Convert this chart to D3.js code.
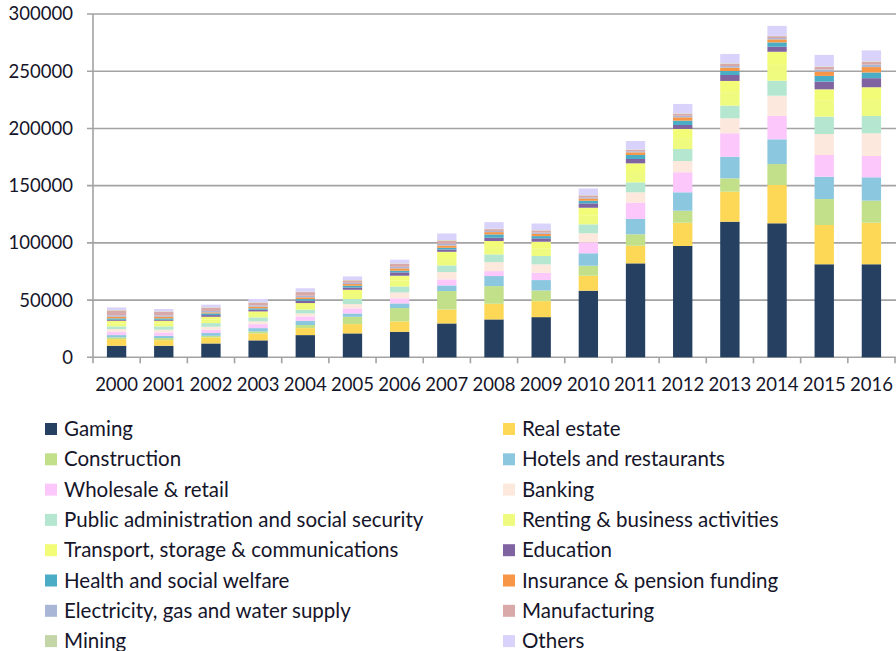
<!DOCTYPE html>
<html>
<head>
<meta charset="utf-8">
<script src="https://cdn.jsdelivr.net/npm/d3@7"></script>
<style>
    body { margin: 0; background: #fff; }
    svg { display: block; font-family: Lato, "Open Sans", sans-serif; }
</style>
</head>
<body>
<svg class="main" width="896" height="651"></svg>
<script>
var years = ["2000", "2001", "2002", "2003", "2004", "2005", "2006", "2007", "2008",
    "2009", "2010", "2011", "2012", "2013", "2014", "2015", "2016"];

// series, bottom of the stack first
var gaming        = [10100, 10100, 12100, 14800, 19400, 20900, 22300, 29600, 33100, 35100, 58200, 82100, 97300, 118500, 117100, 81300, 81300];
var realEstate    = [5800, 4900, 5300, 6100, 6100, 8100, 9100, 12200, 13700, 14000, 13100, 15400, 20300, 26200, 33500, 34300, 36300];
var construction  = [1500, 1800, 1400, 1700, 2700, 6400, 11600, 16100, 15400, 9300, 8700, 10000, 10500, 11700, 18300, 22700, 19300];
var hotels        = [2000, 2000, 2400, 2900, 3700, 2900, 4100, 4900, 8800, 9100, 10900, 13400, 16100, 18900, 21600, 19500, 20400];
var wholesale     = [2900, 2900, 2900, 3500, 3800, 4400, 4400, 5300, 4300, 6400, 9600, 14200, 17500, 20500, 20600, 19000, 18600];
var banking       = [2400, 2400, 2600, 2400, 2600, 3800, 5200, 6400, 7900, 7300, 7900, 9100, 9800, 13100, 17500, 18300, 19900];
var publicAdmin   = [2300, 2900, 3200, 3500, 3300, 4400, 5200, 5800, 6700, 7300, 7800, 8700, 10500, 11000, 13100, 15200, 15100];
var renting       = [2700, 2700, 3000, 2900, 3200, 4400, 5100, 6500, 6400, 6800, 7900, 9000, 9500, 11800, 13800, 14300, 14000];
var transport     = [2200, 2200, 2500, 2300, 2600, 3700, 4300, 5400, 5300, 5700, 6600, 7600, 8000, 9800, 11500, 9600, 11100];
var education     = [900, 900, 1500, 1500, 2000, 2000, 2900, 2000, 2900, 2900, 3800, 3800, 3500, 5200, 4400, 6700, 7900];
var health        = [1200, 1200, 1500, 1200, 1500, 1500, 1500, 1500, 2900, 2000, 2300, 3500, 3800, 3500, 3800, 5000, 5000];
var insurance     = [1500, 1500, 900, 1500, 1500, 1500, 2000, 2000, 2000, 2000, 2000, 2300, 2900, 2900, 2600, 3800, 4700];
var electricity   = [1200, 1100, 1200, 1100, 1400, 1100, 1400, 1500, 1000, 1100, 1100, 1000, 1400, 1400, 1200, 1800, 2200];
var manufacturing = [4200, 3300, 2900, 2400, 3200, 2100, 2600, 2700, 1600, 1800, 1500, 1300, 1800, 2000, 1600, 2200, 2400];
var mining        = [400, 300, 300, 300, 400, 300, 400, 500, 300, 300, 300, 300, 300, 400, 300, 400, 400];
var others        = [2300, 2000, 2300, 2900, 2900, 3200, 3200, 5800, 5800, 5800, 5800, 7300, 8200, 8200, 8700, 10200, 9600];

var yTicks = [0, 50000, 100000, 150000, 200000, 250000, 300000];

var series = [
    { name: "Gaming", values: gaming, color: "#254061" },
    { name: "Real estate", values: realEstate, color: "#fdd856" },
    { name: "Construction", values: construction, color: "#c2e089" },
    { name: "Hotels and restaurants", values: hotels, color: "#8cc7e0" },
    { name: "Wholesale & retail", values: wholesale, color: "#fcc7fb" },
    { name: "Banking", values: banking, color: "#fce8dc" },
    { name: "Public administration and social security", values: publicAdmin, color: "#b5e7d0" },
    { name: "Renting & business activities", values: renting, color: "#eefb7e" },
    { name: "Transport, storage & communications", values: transport, color: "#f2fc76" },
    { name: "Education", values: education, color: "#8064a2" },
    { name: "Health and social welfare", values: health, color: "#4bacc6" },
    { name: "Insurance & pension funding", values: insurance, color: "#f79646" },
    { name: "Electricity, gas and water supply", values: electricity, color: "#a9b6d6" },
    { name: "Manufacturing", values: manufacturing, color: "#d9a8a8" },
    { name: "Mining", values: mining, color: "#c4d6a8" },
    { name: "Others", values: others, color: "#d9d3fb" }
];

var svg = d3.select(".main"),
    textColor = "#15152a",
    gridColor = "#a3a3a3";

var layout = {
    left: 93,
    right: 895,
    top: 14,
    bottom: 357.3
};

var table = years.map(function(y, i) {
    var row = { year: y };
    series.forEach(function(s) { row[s.name] = s.values[i]; });
    return row;
});

var stacked = d3.stack().keys(series.map(function(s) { return s.name; }))(table);

var x = d3.scaleBand()
    .domain(years)
    .range([layout.left, layout.right])
    .paddingInner(0.59)
    .paddingOuter(0.295);

var y = d3.scaleLinear()
    .domain([0, 300000])
    .range([layout.bottom, layout.top]);

/**
 * Grid and y labels
 */
svg.append("g")
    .selectAll("line")
    .data(yTicks)
    .enter()
    .append("line")
    .attr("x1", layout.left - 6)
    .attr("x2", layout.right + 1)
    .attr("y1", function(d) { return y(d); })
    .attr("y2", function(d) { return y(d); })
    .attr("stroke", gridColor)
    .attr("stroke-width", 1.6);

svg.append("g")
    .selectAll("text")
    .data(yTicks)
    .enter()
    .append("text")
    .attr("x", 73)
    .attr("y", function(d) { return y(d); })
    .attr("dy", "0.35em")
    .attr("text-anchor", "end")
    .attr("fill", textColor)
    .style("font-size", "18.5px")
    .text(function(d) { return d; });

// left axis line
svg.append("line")
    .attr("x1", layout.left)
    .attr("x2", layout.left)
    .attr("y1", layout.top)
    .attr("y2", layout.bottom)
    .attr("stroke", gridColor)
    .attr("stroke-width", 1.6);

/**
 * Bars
 */
svg.append("g")
    .selectAll("g")
    .data(stacked)
    .enter()
    .append("g")
    .attr("fill", function(d, i) { return series[i].color; })
    .selectAll("rect")
    .data(function(d) { return d; })
    .enter()
    .append("rect")
    .attr("x", function(d) { return x(d.data.year); })
    .attr("width", x.bandwidth())
    .attr("y", function(d) { return y(d[1]); })
    .attr("height", function(d) { return y(d[0]) - y(d[1]); });

/**
 * X axis: ticks between categories, year labels
 */
var step = x.step();

svg.append("g")
    .selectAll("line")
    .data(d3.range(years.length + 1))
    .enter()
    .append("line")
    .attr("x1", function(i) { return layout.left + i * step; })
    .attr("x2", function(i) { return layout.left + i * step; })
    .attr("y1", layout.bottom)
    .attr("y2", layout.bottom + 6)
    .attr("stroke", gridColor)
    .attr("stroke-width", 1.6);

svg.append("g")
    .selectAll("text")
    .data(years)
    .enter()
    .append("text")
    .attr("x", function(d) { return x(d) + x.bandwidth() / 2; })
    .attr("y", 385)
    .attr("dy", "0.35em")
    .attr("text-anchor", "middle")
    .attr("fill", textColor)
    .style("font-size", "18.5px")
    .text(function(d) { return d; });

/**
 * Legend, two columns read row by row
 */
var legend = svg.append("g")
    .selectAll("g")
    .data(series)
    .enter()
    .append("g")
    .attr("transform", function(d, i) {
        var col = i % 2,
            row = Math.floor(i / 2);
        return "translate(" + (col ? 503 : 45) + "," + (429 + row * 30.3) + ")";
    });

legend.append("rect")
    .attr("x", 0)
    .attr("y", -6)
    .attr("width", 12)
    .attr("height", 12)
    .attr("fill", function(d) { return d.color; });

legend.append("text")
    .attr("x", 19)
    .attr("y", 0)
    .attr("dy", "0.35em")
    .attr("fill", textColor)
    .style("font-size", "20.5px")
    .text(function(d) { return d.name; });
</script>
</body>
</html>
